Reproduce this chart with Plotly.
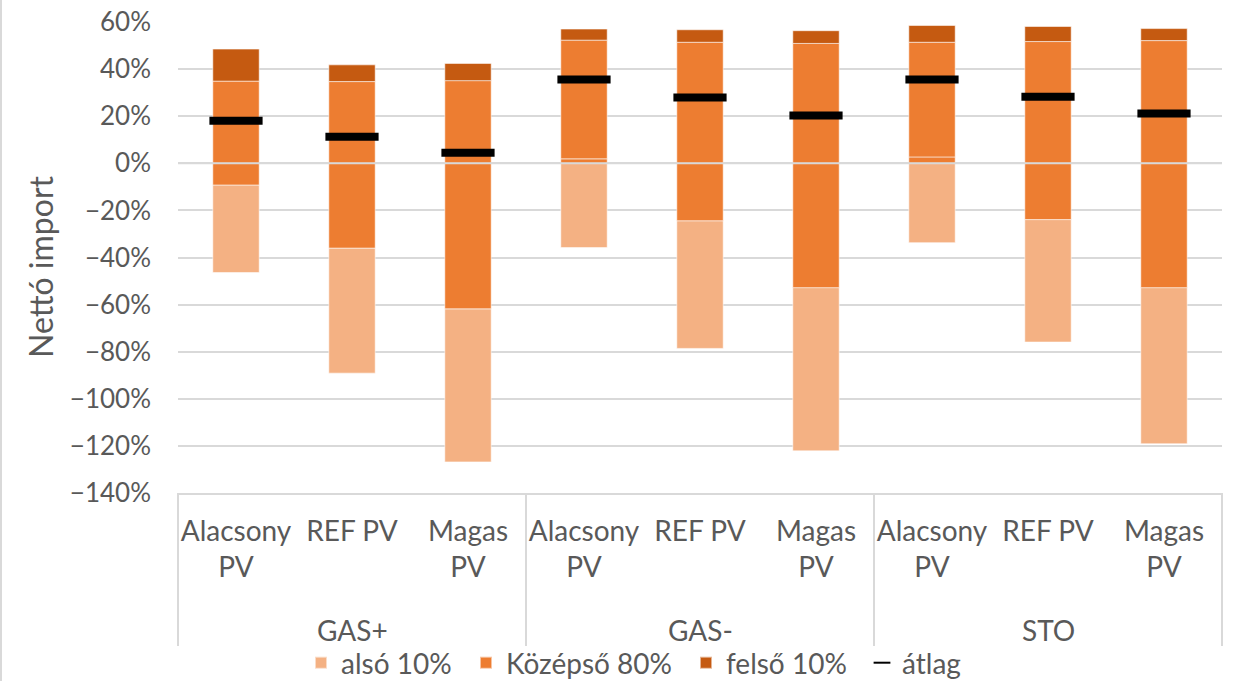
import plotly.graph_objects as go

# Scenario groups and PV variants
csoportok = ["GAS+", "GAS-", "STO"]
pv_valtozatok = ["Alacsony<br>PV", "REF PV", "Magas<br>PV"]
kategoriak = [f"{g} {p.replace('<br>', ' ')}" for g in csoportok for p in pv_valtozatok]
tick_feliratok = pv_valtozatok * 3

# Net import distribution per scenario, in %
also_szel = [-46.4, -89.1, -126.8, -35.8, -78.6, -122.1, -33.7, -75.9, -119.1]
p10 = [-9.2, -36.0, -61.8, 1.9, -24.4, -52.8, 2.7, -23.9, -52.8]
p90 = [34.9, 34.7, 35.1, 52.3, 51.4, 50.9, 51.4, 51.7, 52.1]
felso_szel = [48.5, 41.8, 42.4, 57.0, 56.7, 56.3, 58.5, 58.1, 57.2]
atlag = [18.1, 11.3, 4.5, 35.6, 27.9, 20.3, 35.6, 28.3, 21.1]

C_ALSO = "#F4B183"
C_KOZEP = "#ED7D31"
C_FELSO = "#C55A11"
TXT = "#595959"
GRID = "#D9D9D9"
FONT = "Lato"

W, H = 1240, 681
L, R, T, B = 178, 18, 22, 188
PW, PH = W - L - R, H - T - B


def px_x(px):
    return (px - L) / PW


def px_y(py):
    return (H - B - py) / PH


pct = lambda v: [a / 100 for a in v]
edge = dict(color="rgba(255,255,255,0.55)", width=1)

base_also = [min(a, 0) for a in p10]
base_kozep = [max(a, 0) for a in p10]

fig = go.Figure()
fig.add_trace(go.Bar(
    x=kategoriak, base=pct(base_also),
    y=pct([lo - b for lo, b in zip(also_szel, base_also)]),
    name="alsó 10%", legend="legend", marker=dict(color=C_ALSO, line=edge),
))
# part of the middle band between zero and the 10th percentile
fig.add_trace(go.Bar(
    x=kategoriak, base=[0] * 9, y=pct(p10),
    name="Középső 80%", showlegend=False,
    marker=dict(color=C_KOZEP, line=edge),
))
fig.add_trace(go.Bar(
    x=kategoriak, base=pct(base_kozep),
    y=pct([hi - b for hi, b in zip(p90, base_kozep)]),
    name="Középső 80%", legend="legend2",
    marker=dict(color=C_KOZEP, line=edge),
))
fig.add_trace(go.Bar(
    x=kategoriak, base=pct(p90),
    y=pct([hi - b for hi, b in zip(felso_szel, p90)]),
    name="felső 10%", legend="legend3", marker=dict(color=C_FELSO, line=edge),
))
fig.add_trace(go.Scatter(
    x=kategoriak, y=pct(atlag), mode="markers", name="átlag", legend="legend4",
    marker=dict(symbol="line-ew", size=38, color="black",
                line=dict(color="black", width=8)),
))

leg_common = dict(orientation="h", xanchor="left", yanchor="middle", y=px_y(663),
                  font=dict(size=28, color=TXT), itemsizing="constant",
                  bgcolor="rgba(0,0,0,0)")

shapes = [
    # category axis line at zero, drawn over the bars
    dict(type="line", xref="x domain", yref="y", x0=0, x1=1, y0=0, y1=0,
         line=dict(color=GRID, width=2), layer="above"),
    # chart area left border
    dict(type="line", xref="paper", yref="paper", x0=px_x(1), x1=px_x(1),
         y0=px_y(681), y1=px_y(0), line=dict(color=GRID, width=2)),
]
# group dividers under the category labels
for i in range(4):
    shapes.append(dict(type="line", xref="x domain", yref="paper",
                       x0=i / 3, x1=i / 3, y0=0, y1=px_y(646),
                       line=dict(color=GRID, width=2)))

annotations = [
    dict(text=g, xref="x domain", yref="paper", x=(i + 0.5) / 3, y=px_y(630),
         showarrow=False, xanchor="center", yanchor="middle",
         font=dict(size=28, color=TXT))
    for i, g in enumerate(csoportok)
]
annotations.append(dict(
    text="Nettó import", xref="paper", yref="paper", x=px_x(40), y=px_y(267),
    textangle=-90, showarrow=False, xanchor="center", yanchor="middle",
    font=dict(size=32, color=TXT)))

fig.update_layout(
    width=W, height=H,
    margin=dict(l=L, r=R, t=T, b=B, autoexpand=False),
    paper_bgcolor="white", plot_bgcolor="white",
    barmode="overlay", bargap=0.6,
    font=dict(family=FONT, size=26, color=TXT),
    showlegend=True,
    legend=dict(x=px_x(301), **leg_common),
    legend2=dict(x=px_x(466), **leg_common),
    legend3=dict(x=px_x(686), **leg_common),
    legend4=dict(x=px_x(862), **leg_common),
    shapes=shapes,
    annotations=annotations,
)
fig.update_yaxes(
    range=[-1.4, 0.6], dtick=0.2, tickformat=".0%", automargin=False,
    showgrid=True, gridcolor=GRID, gridwidth=2, zeroline=False,
    ticklabelstandoff=26, tickfont=dict(size=26, color=TXT),
)
fig.update_xaxes(
    type="category", range=[-0.5, 8.5], automargin=False,
    tickvals=kategoriak, ticktext=tick_feliratok,
    showline=True, linecolor=GRID, linewidth=2, showgrid=False,
    ticklabelstandoff=12, tickfont=dict(size=28, color=TXT),
)

fig.write_html("out.html")
